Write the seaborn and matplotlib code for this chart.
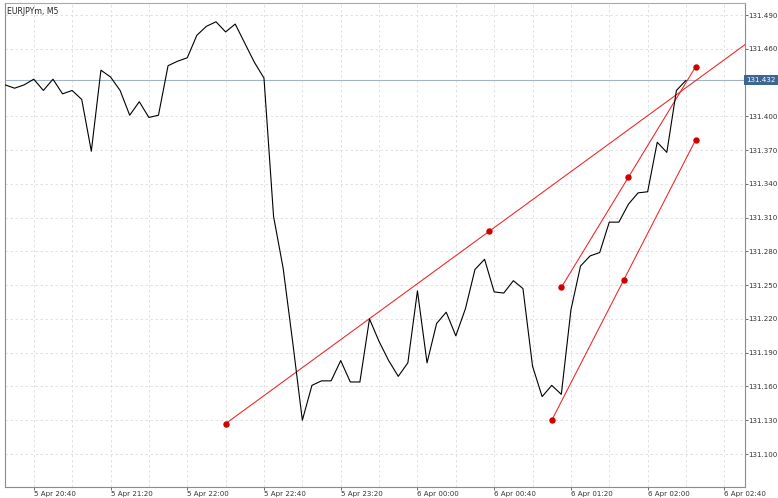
import pandas as pd
import numpy as np
import matplotlib
matplotlib.use("Agg")
import matplotlib.pyplot as plt
import matplotlib.transforms as mtransforms
import seaborn as sns

# Price series (M5 closes)
start_time = "2021-04-05 20:25"
prices = [
    131.428, 131.425, 131.428, 131.433, 131.423, 131.433, 131.420, 131.423,
    131.415, 131.369, 131.441, 131.435, 131.423, 131.401, 131.413, 131.399,
    131.401, 131.445, 131.449, 131.452, 131.472, 131.480, 131.484, 131.475,
    131.482, 131.465, 131.448, 131.434, 131.311, 131.265, 131.199, 131.130,
    131.161, 131.165, 131.165, 131.183, 131.164, 131.164, 131.220, 131.200,
    131.183, 131.169, 131.181, 131.245, 131.181, 131.216, 131.226, 131.205,
    131.229, 131.264, 131.273, 131.244, 131.243, 131.254, 131.247, 131.178,
    131.151, 131.161, 131.153, 131.228, 131.267, 131.276, 131.279, 131.306,
    131.306, 131.322, 131.332, 131.333, 131.377, 131.368, 131.423, 131.432,
]
times = pd.date_range(start_time, periods=len(prices), freq="5min")

# Trend lines (two anchors each)
trend1_time = ["2021-04-05 22:20", "2021-04-06 02:55"]
trend1_price = [131.127, 131.469]
trend2_time = ["2021-04-06 01:15", "2021-04-06 02:25"]
trend2_price = [131.248, 131.444]
trend3_time = ["2021-04-06 01:10", "2021-04-06 02:25"]
trend3_price = [131.130, 131.379]

bid_price = 131.432

y_ticks = [131.100, 131.130, 131.160, 131.190, 131.220, 131.250, 131.280,
           131.310, 131.340, 131.370, 131.400, 131.460, 131.490]
x_tick_times = ["2021-04-05 20:40", "2021-04-05 21:20", "2021-04-05 22:00",
                "2021-04-05 22:40", "2021-04-05 23:20", "2021-04-06 00:00",
                "2021-04-06 00:40", "2021-04-06 01:20", "2021-04-06 02:00",
                "2021-04-06 02:40"]
x_tick_labels = ["5 Apr 20:40", "5 Apr 21:20", "5 Apr 22:00", "5 Apr 22:40",
                 "5 Apr 23:20", "6 Apr 00:00", "6 Apr 00:40", "6 Apr 01:20",
                 "6 Apr 02:00", "6 Apr 02:40"]

sns.set_style("white")
plt.rcParams['font.family'] = ['DejaVu Sans']

fig = plt.figure(figsize=(7.78, 4.98), dpi=100)
ax = fig.add_axes([5/778, 11/498, 740/778, 484/498])

# bid line
ax.axhline(bid_price, color="#9fb4cb", lw=0.8, zorder=2)

# price line
sns.lineplot(x=times, y=prices, color="black", lw=0.8, ax=ax, zorder=4)

# trend lines with anchor / middle dots
for t, p, ray in [(trend1_time, trend1_price, True),
                  (trend2_time, trend2_price, False),
                  (trend3_time, trend3_price, False)]:
    tt = pd.to_datetime(t)
    sns.lineplot(x=tt, y=p, color="#f02020", lw=0.75, ax=ax, zorder=3)
    mid_t = tt[0] + (tt[1] - tt[0]) / 2
    mid_p = (p[0] + p[1]) / 2
    dot_t = [tt[0], mid_t] if ray else [tt[0], mid_t, tt[1]]
    dot_p = [p[0], mid_p] if ray else [p[0], mid_p, p[1]]
    ax.plot(dot_t, dot_p, "o", color="#d00000", ms=3.6, zorder=5, clip_on=False)

ax.set_xlim(pd.Timestamp(start_time), pd.Timestamp("2021-04-06 02:50:45"))
ax.set_ylim(131.0707, 131.5007)

# axes styling
ax.yaxis.tick_right()
ax.set_yticks(y_ticks)
ax.set_yticklabels([f"{v:.3f}" for v in y_ticks])
ax.set_xticks(pd.to_datetime(x_tick_times))
ax.set_xticklabels(x_tick_labels)
minor = pd.date_range("2021-04-05 21:00", "2021-04-06 02:20", freq="40min")
ax.set_xticks(minor, minor=True)
for lbl in ax.get_xticklabels():
    lbl.set_ha("left")
ax.tick_params(axis="both", which="major", labelsize=5.1, colors="#555555",
               labelcolor="#333333", length=2, width=0.6, pad=0.6)
ax.tick_params(axis="x", which="minor", length=0)
ax.tick_params(axis="y", direction="out", right=True, left=False)
ax.tick_params(axis="x", direction="out", bottom=True, pad=1.2)
ax.set_xlabel("")
ax.set_ylabel("")

ax.grid(True, which="both", color="#dcdcdc", linestyle=(0, (3, 3)), lw=0.6)
ax.set_axisbelow(True)
for side, col in [("left", "#8c8c8c"), ("top", "#a8a8a8"),
                  ("right", "#8c8c8c"), ("bottom", "#8c8c8c")]:
    ax.spines[side].set_color(col)
    ax.spines[side].set_linewidth(0.8)

# bid price label on the right axis
trans = mtransforms.blended_transform_factory(ax.transAxes, ax.transData)
ax.text(1.0015, bid_price, f"{bid_price:.3f}", transform=trans, ha="left",
        va="center", fontsize=5.1, color="white", zorder=6, clip_on=False,
        bbox=dict(boxstyle="square,pad=0.3", fc="#3d6791", ec="none"))

# symbol caption
ax.text(2/740, 1 - 4/484, "EURJPYm, M5", transform=ax.transAxes, ha="left",
        va="top", fontsize=5.6, color="#222222")

fig.savefig("out.png", dpi=100)
